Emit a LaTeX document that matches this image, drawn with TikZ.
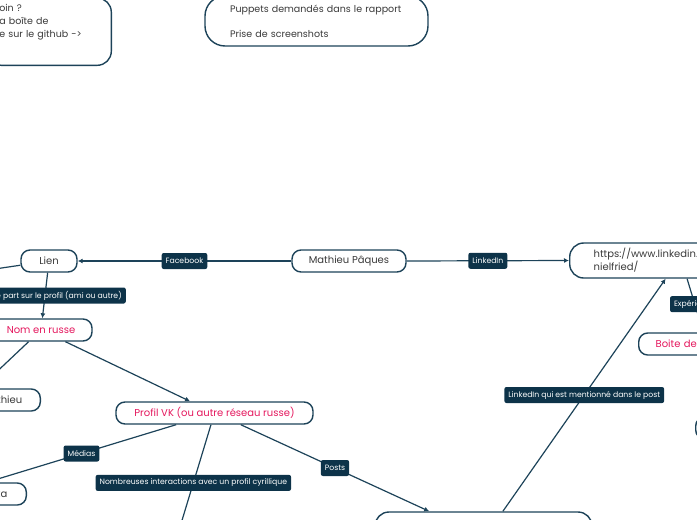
\documentclass[tikz,border=0pt]{standalone}
\usepackage{fontspec}
\setmainfont{Poppins}
\usetikzlibrary{arrows.meta}
\definecolor{MapNavy}{HTML}{0D3349}
\definecolor{MapLine}{HTML}{1D4359}
\definecolor{MapPink}{HTML}{E5185E}
\definecolor{MapGray}{HTML}{3A3A3A}

\begin{document}
\begin{tikzpicture}[
    x=1pt, y=-1pt,
    topic/.style={draw=MapLine,line width=1.4pt,rounded corners=9pt,fill=white,text=MapGray,minimum height=22pt,inner xsep=6pt,font=\fontsize{10}{13}\selectfont},
    russe/.style={topic,text=MapPink},
    note/.style={topic,rounded corners=14pt,align=left,font=\fontsize{9.5}{13}\selectfont},
    lbl/.style={fill=MapNavy,text=white,rounded corners=2pt,minimum height=16pt,inner xsep=4pt,inner ysep=0pt,font=\fontsize{7.7}{9}\selectfont},
    arrow/.style={-{Latex[length=5pt,width=5pt]},draw=MapLine,line width=1.2pt},
    link/.style={draw=MapLine,line width=1.2pt}
  ]
  \useasboundingbox (0,0) rectangle (697,520);
  \clip (0,0) rectangle (697,520);

  % notes en haut
  \node[note,anchor=south east,text width=100pt,inner xsep=12pt,inner ysep=6pt] (besoin) at (112,66) {oin ?\\a boîte de\\e sur le github ->\\[9pt]~};
  \node[note,rounded corners=20pt,text width=173pt,inner xsep=25pt,minimum height=50pt] (rapport) at (316.5,21) {Puppets demandés dans le rapport\\[12pt]Prise de screenshots};

  % carte
  \node[topic,minimum width=114pt] (mp) at (349,261) {Mathieu Pâques};
  \node[topic,minimum width=56pt] (lien) at (49,261) {Lien};
  \node[russe,minimum width=102pt] (nom) at (41,330) {Nom en russe};
  \node[topic,anchor=east,inner xsep=18pt] (thieu) at (41,400) {thieu};
  \node[topic,anchor=east,inner xsep=19pt] (ka) at (27,494) {ka};
  \node[russe,minimum width=197pt] (vk) at (214.5,413) {Profil VK (ou autre réseau russe)};
  \node[topic,minimum width=217pt,minimum height=36pt,rounded corners=14pt] (post) at (483.5,530) {};
  \node[topic,anchor=west,minimum height=35pt,text width=200pt,inner xsep=24pt,align=left,rounded corners=14pt] (url) at (569,260.5) {https://www.linkedin.\\nielfried/};
  \node[russe,anchor=west,text width=120pt,inner xsep=17pt,align=left] (boite) at (638,344) {Boite de};
  \node[topic,anchor=west,minimum width=100pt] (droite) at (695,428) {};

  \coordinate (gauche) at (-100,283);
  \coordinate (cyr) at (170,560);
  \coordinate (xp) at (730,420);

  \draw[arrow] (mp) -- node[lbl]{Facebook} (lien);
  \draw[arrow] (mp.east) -- node[lbl]{LinkedIn} (url.west);
  \draw[link] (lien) -- (gauche);
  \draw[arrow] (lien) -- node[lbl,xshift=14pt]{e part sur le profil (ami ou autre)} (nom);
  \draw[arrow] (nom) -- (thieu.159);
  \draw[arrow] (nom) -- (vk);
  \draw[arrow] (vk) -- node[lbl]{Médias} (ka.141);
  \draw[arrow] (vk) -- node[lbl,pos=.43]{Nombreuses interactions avec un profil cyrillique} (cyr);
  \draw[arrow] (vk.-24) -- node[lbl]{Posts} (post.161);
  \draw[arrow] (post.44) -- node[lbl]{LinkedIn qui est mentionné dans le post} (url.-147);
  \draw[link] (url.-110) -- node[lbl,pos=.18]{Expérience} (xp);
\end{tikzpicture}
\end{document}
